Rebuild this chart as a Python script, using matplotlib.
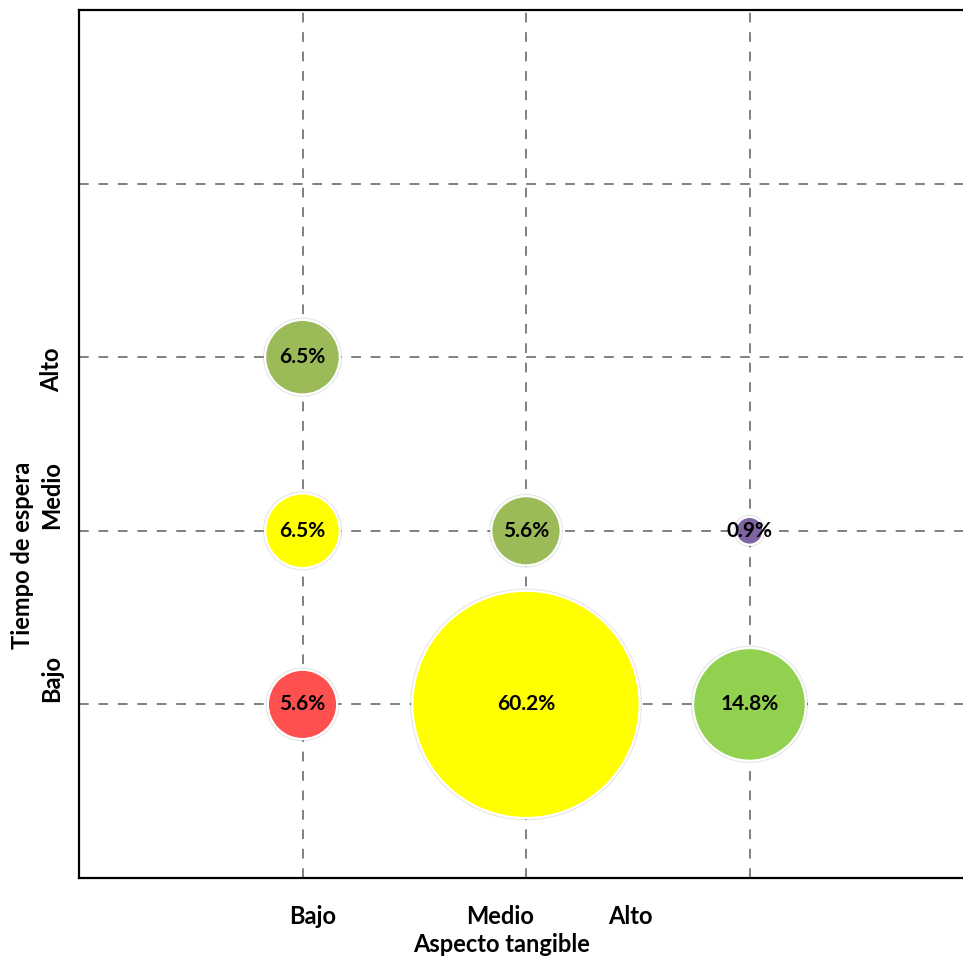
import matplotlib
matplotlib.use("Agg")
import matplotlib.pyplot as plt

# niveles (1=Bajo, 2=Medio, 3=Alto)
aspecto = [1, 1, 1, 2, 2, 3, 3]
espera = [3, 2, 1, 2, 1, 2, 1]
porcentaje = [6.5, 6.5, 5.6, 5.6, 60.2, 0.9, 14.8]
colores = ["#9BBB59", "#FFFF00", "#FF5050", "#9BBB59", "#FFFF00", "#8064A2", "#92D050"]

etiquetas_x = ["Bajo", "Medio", "Alto"]
etiquetas_y = ["Bajo", "Medio", "Alto"]

plt.rcParams["font.family"] = ["Lato", "DejaVu Sans"]
plt.rcParams["font.weight"] = "bold"

fig = plt.figure(figsize=(9.63, 9.59), dpi=100)
ax = fig.add_axes([79 / 963, 81 / 959, 894 / 963, 868 / 959])
ax.set_xlim(0, 4)
ax.set_ylim(0, 5)

# cuadricula discontinua
for gx in [1, 2, 3]:
    ax.axvline(gx, color="#808080", lw=1.4, ls=(0, (5, 5)), zorder=1)
for gy in [1, 2, 3, 4]:
    ax.axhline(gy, color="#808080", lw=1.4, ls=(0, (5, 5)), zorder=1)

tamanos = [445 * p for p in porcentaje]
# sombra suave detras de cada burbuja
ax.scatter(aspecto, espera, s=tamanos, c="none", edgecolors=(0, 0, 0, 0.10),
           linewidths=3.2, zorder=2)
ax.scatter(aspecto, espera, s=tamanos, c=colores, edgecolors="white",
           linewidths=1.6, zorder=3)

for xv, yv, p in zip(aspecto, espera, porcentaje):
    ax.text(xv, yv, f"{p:.1f}%", ha="center", va="center", fontsize=15,
            fontweight="bold", color="black", zorder=4)

ax.set_xticks([])
ax.set_yticks([])
for side in ["left", "bottom", "top"]:
    ax.spines[side].set_linewidth(1.6)
    ax.spines[side].set_color("black")
ax.spines["right"].set_visible(False)

# etiquetas de categorias colocadas a mano
for txt, px in zip(etiquetas_x, [313, 500, 630]):
    fig.text(px / 963, 1 - 916 / 959, txt, ha="center", va="center", fontsize=17, fontweight="bold")
for txt, py in zip(etiquetas_y, [678, 495, 370]):
    fig.text(52 / 963, 1 - py / 959, txt, ha="center", va="center", rotation=90,
             fontsize=17, fontweight="bold")

fig.text(502 / 963, 1 - 945 / 959, "Aspecto tangible", ha="center", va="center",
         fontsize=17, fontweight="bold")
fig.text(22 / 963, 1 - 555 / 959, "Tiempo de espera", ha="center", va="center", rotation=90,
         fontsize=17, fontweight="bold")

fig.savefig("out.png", dpi=100)
